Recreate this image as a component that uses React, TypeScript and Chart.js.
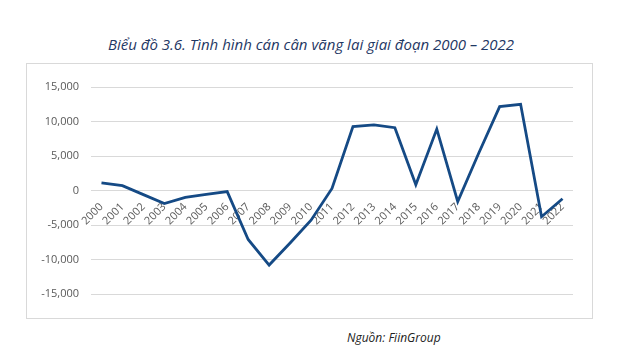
import React, { useEffect, useRef } from "react";
import { Chart, registerables } from "chart.js";

Chart.register(...registerables);

const years = ["2000","2001","2002","2003","2004","2005","2006","2007","2008","2009","2010","2011","2012","2013","2014","2015","2016","2017","2018","2019","2020","2021","2022"];
const currentAccount = [1100, 700, -600, -1900, -1000, -560, -160, -7100, -10800, -7600, -4300, 300, 9250, 9500, 9100, 850, 8900, -1600, 5400, 12150, 12500, -3800, -1200];
const yMin = -15000;
const yMax = 15000;
const yStep = 5000;
const titleText = "Biểu đồ 3.6. Tình hình cán cân vãng lai giai đoạn 2000 – 2022";
const sourceText = "Nguồn: FiinGroup";

export default function App() {
  const ref = useRef<HTMLCanvasElement | null>(null);
  useEffect(() => {
    if (!ref.current) return;
    const chart = new Chart(ref.current, {
      type: "line",
      data: {
        labels: years,
        datasets: [
          {
            data: currentAccount,
            borderColor: "#154a85",
            borderWidth: 2.8,
            pointRadius: 0,
            tension: 0,
            fill: false,
          },
        ],
      },
      options: {
        responsive: false,
        animation: false,
        layout: { padding: { left: 0, right: 19, top: 23, bottom: 24 } },
        plugins: { legend: { display: false }, tooltip: { enabled: false }, title: { display: false } },
        scales: {
          x: {
            type: "category",
            position: { y: 0 } as any,
            offset: true,
            grid: { display: false },
            border: { display: false },
            ticks: {
              autoSkip: false,
              minRotation: 45,
              maxRotation: 45,
              padding: 2,
              color: "#595959",
              font: { family: "'Open Sans'", size: 11 },
            },
          },
          y: {
            min: yMin,
            max: yMax,
            afterFit: (s: any) => { s.width = 64; },
            grid: { color: "#d9d9d9", lineWidth: 1, drawTicks: false },
            border: { display: false },
            ticks: {
              stepSize: yStep,
              padding: 12,
              color: "#595959",
              font: { family: "'Open Sans'", size: 11 },
              callback: (v: any) => Number(v).toLocaleString("en-US"),
            },
          },
        },
      },
    });
    return () => chart.destroy();
  }, []);

  return (
    <div style={{ position: "fixed", left: 0, top: 0, width: 640, height: 359, background: "#fff" }}>
      <div
        style={{
          position: "absolute",
          left: 0,
          width: 622,
          top: 34,
          textAlign: "center",
          fontFamily: "'Open Sans'",
          fontStyle: "italic",
          fontSize: 15,
          color: "#1f3864",
          whiteSpace: "nowrap",
        }}
      >
        {titleText}
      </div>
      <div
        style={{
          position: "absolute",
          left: 26,
          top: 63,
          width: 565,
          height: 254,
          border: "1px solid #d9d9d9",
        }}
      >
        <canvas ref={ref} width={565} height={254} style={{ display: "block" }} />
      </div>
      <div
        style={{
          position: "absolute",
          left: 347,
          top: 329,
          fontFamily: "'Open Sans'",
          fontStyle: "italic",
          fontSize: 12,
          color: "#222",
          whiteSpace: "nowrap",
        }}
      >
        {sourceText}
      </div>
    </div>
  );
}
